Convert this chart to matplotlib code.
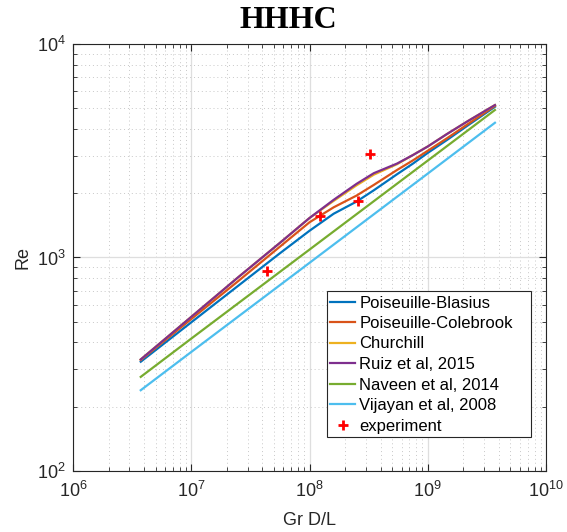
import matplotlib
matplotlib.use("Agg")
import matplotlib.pyplot as plt
from matplotlib.ticker import LogLocator, NullFormatter
from matplotlib.patches import Rectangle

plt.rcParams['font.family'] = ['Liberation Sans', 'DejaVu Sans']
plt.rcParams['mathtext.fontset'] = 'custom'
plt.rcParams['mathtext.rm'] = 'Liberation Sans'
plt.rcParams['mathtext.it'] = 'Liberation Sans:italic'
plt.rcParams['mathtext.bf'] = 'Liberation Sans:bold'

# ---- data ----
gr = [3.74e6, 1e7, 2.5e7, 5.6e7, 1e8, 1.6e8, 2.5e8, 3.5e8, 5.5e8, 7.5e8, 1e9, 1.45e9, 2.2e9, 3.7e9]
re_blasius = [325, 497, 738, 1045, 1334, 1603, 1828, 2065, 2455, 2754, 3090, 3548, 4169, 5082]
re_colebrook = [331, 515, 776, 1122, 1462, 1718, 1950, 2188, 2570, 2851, 3162, 3614, 4227, 5129]
re_churchill = [333, 527, 809, 1169, 1531, 1841, 2178, 2443, 2735, 3020, 3311, 3784, 4365, 5176]
re_ruiz = [333, 527, 809, 1169, 1531, 1862, 2213, 2483, 2754, 3020, 3311, 3784, 4365, 5176]

gr_short = [3.74e6, 1e7, 1e8, 1e9, 3.7e9]
re_naveen = [276, 417, 1089, 2844, 4909]
re_vijayan = [239, 361, 944, 2472, 4276]

gr_exp = [4.4e7, 1.23e8, 2.59e8, 3.27e8]
re_exp = [867, 1563, 1840, 3055]

labels = ['Poiseuille-Blasius', 'Poiseuille-Colebrook', 'Churchill',
          'Ruiz et al, 2015', 'Naveen et al, 2014', 'Vijayan et al, 2008', 'experiment']
colors = ['#0072BD', '#D95319', '#EDB120', '#7E2F8E', '#77AC30', '#4DBEEE']

fig = plt.figure(figsize=(5.67, 5.32), dpi=100)
ax = fig.add_axes([73/567, 61/532, 473/567, 427/532])

lw = 1.6
ax.plot(gr, re_blasius, color=colors[0], lw=lw, label=labels[0])
ax.plot(gr, re_colebrook, color=colors[1], lw=lw, label=labels[1])
ax.plot(gr, re_churchill, color=colors[2], lw=lw, label=labels[2])
ax.plot(gr, re_ruiz, color=colors[3], lw=lw, label=labels[3])
ax.plot(gr_short, re_naveen, color=colors[4], lw=lw, label=labels[4])
ax.plot(gr_short, re_vijayan, color=colors[5], lw=lw, label=labels[5])
ax.plot(gr_exp, re_exp, ls='none', marker='+', color='red', ms=7, mew=2, label=labels[6])

ax.set_xscale('log')
ax.set_yscale('log')
ax.set_xlim(1e6, 1e10)
ax.set_ylim(1e2, 1e4)

ax.xaxis.set_major_locator(LogLocator(base=10, numticks=10))
ax.yaxis.set_major_locator(LogLocator(base=10, numticks=10))
ax.xaxis.set_minor_locator(LogLocator(base=10, subs=range(2, 10), numticks=100))
ax.yaxis.set_minor_locator(LogLocator(base=10, subs=range(2, 10), numticks=100))
ax.xaxis.set_minor_formatter(NullFormatter())
ax.yaxis.set_minor_formatter(NullFormatter())

fc = '#262626'
ax.grid(True, which='major', color='#dedede', lw=0.9, ls='-')
ax.grid(True, which='minor', color='#c8c8c8', lw=0.7, ls=(0, (1, 3)))
ax.set_axisbelow(True)
ax.tick_params(which='both', direction='in', top=True, right=True, colors=fc, labelsize=13)
ax.tick_params(which='major', length=5, width=0.8)
ax.tick_params(which='minor', length=3, width=0.6)
ax.tick_params(axis='x', which='major', pad=7)
ax.tick_params(axis='y', which='major', pad=5)
for s in ax.spines.values():
    s.set_color(fc)
    s.set_linewidth(0.8)

ax.set_xlabel('Gr D/L', fontsize=13, color=fc, labelpad=8)
ax.set_ylabel('Re', fontsize=13, color=fc, labelpad=4)
fig.text(288/567, 1 - 20/532, 'HHHC', fontsize=23, fontweight='bold',
         family='Liberation Serif', ha='center', va='center')

# legend box (MATLAB-style, with extra right padding)
box = Rectangle(((327-73)/473, (471-437)/427), 204/473, 146/427,
                transform=ax.transAxes, facecolor='white', edgecolor=fc,
                lw=0.8, zorder=4.5)
ax.add_patch(box)
leg = ax.legend(loc='center left', bbox_to_anchor=((330-73)/473, (471-364.5)/427),
                borderaxespad=0, fontsize=12, frameon=False,
                handlelength=1.5, handletextpad=0.25,
                labelspacing=0.33, borderpad=0)
leg.set_zorder(5)

fig.savefig('out.png', dpi=100)
